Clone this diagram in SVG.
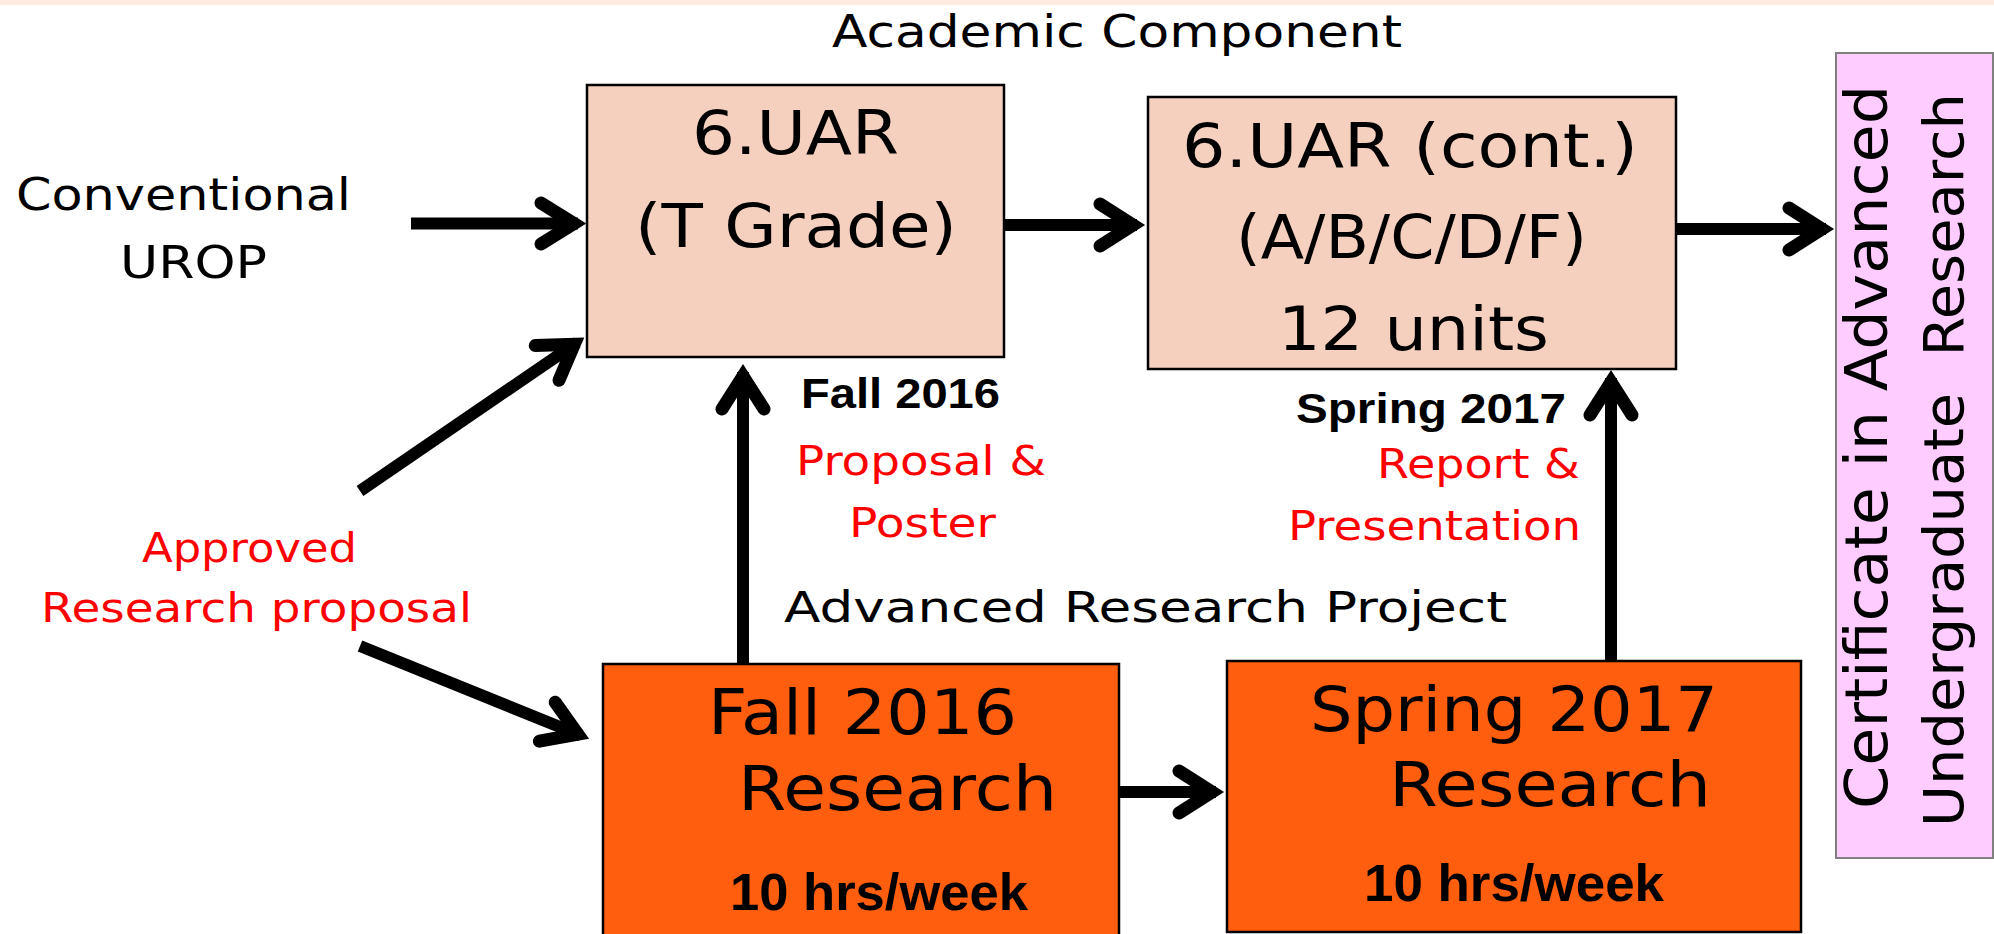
<svg xmlns="http://www.w3.org/2000/svg" width="1994" height="934" viewBox="0 0 1994 934">
<style>
.t{font-family:"DejaVu Sans","Liberation Sans",sans-serif;fill:#000}
.r{font-family:"DejaVu Sans","Liberation Sans",sans-serif;fill:#FF0000}
.b{font-family:"Liberation Sans",Arial,sans-serif;font-weight:bold;fill:#000}
.peach{fill:#F6D0BF;stroke:#000;stroke-width:2.5}
.orange{fill:#FF5E0E;stroke:#000;stroke-width:2.5}
.pink{fill:#FFCCFF;stroke:#808080;stroke-width:2}
.shaft{fill:none;stroke:#000;stroke-width:12;stroke-linecap:butt}
.head{fill:none;stroke:#000;stroke-width:13;stroke-linecap:round;stroke-linejoin:miter;stroke-miterlimit:10}
</style>
<rect x="0" y="0" width="1994" height="934" fill="#FFFFFF"/>
<rect x="0" y="0" width="1994" height="5" fill="#FFEBDF"/>

<text class="t" x="832" y="47" font-size="44" textLength="570" lengthAdjust="spacingAndGlyphs">Academic Component</text>
<text class="t" x="16" y="210" font-size="45" textLength="335" lengthAdjust="spacingAndGlyphs">Conventional</text>
<text class="t" x="120" y="278" font-size="45" textLength="147" lengthAdjust="spacingAndGlyphs">UROP</text>
<text class="b" x="801" y="408" font-size="43" textLength="199" lengthAdjust="spacingAndGlyphs">Fall 2016</text>
<text class="r" x="796" y="475" font-size="40" textLength="250" lengthAdjust="spacingAndGlyphs">Proposal &amp;</text>
<text class="r" x="849" y="537" font-size="40" textLength="147" lengthAdjust="spacingAndGlyphs">Poster</text>
<text class="b" x="1296" y="423" font-size="43" textLength="270" lengthAdjust="spacingAndGlyphs">Spring 2017</text>
<text class="r" x="1377" y="478" font-size="40" textLength="203" lengthAdjust="spacingAndGlyphs">Report &amp;</text>
<text class="r" x="1288" y="540" font-size="40" textLength="293" lengthAdjust="spacingAndGlyphs">Presentation</text>
<text class="r" x="142" y="562" font-size="41" textLength="215" lengthAdjust="spacingAndGlyphs">Approved</text>
<text class="r" x="41" y="622" font-size="41" textLength="431" lengthAdjust="spacingAndGlyphs">Research proposal</text>
<text class="t" x="784" y="622" font-size="43" textLength="723" lengthAdjust="spacingAndGlyphs">Advanced Research Project</text>

<g id="uar1">
<rect class="peach" x="587" y="85" width="417" height="272"/>
<text class="t" x="692" y="154" font-size="60" textLength="207" lengthAdjust="spacingAndGlyphs">6.UAR</text>
<text class="t" x="635" y="247" font-size="60" textLength="322" lengthAdjust="spacingAndGlyphs">(T Grade)</text>
</g>
<g id="uar2">
<rect class="peach" x="1148" y="97" width="528" height="272"/>
<text class="t" x="1182" y="167" font-size="60" textLength="456" lengthAdjust="spacingAndGlyphs">6.UAR (cont.)</text>
<text class="t" x="1236" y="258" font-size="60" textLength="351" lengthAdjust="spacingAndGlyphs">(A/B/C/D/F)</text>
<text class="t" x="1278" y="350" font-size="60" textLength="271" lengthAdjust="spacingAndGlyphs">12 units</text>
</g>
<g id="fall">
<rect class="orange" x="603" y="664" width="516" height="280"/>
<text class="t" x="708" y="734" font-size="63" textLength="309" lengthAdjust="spacingAndGlyphs">Fall 2016</text>
<text class="t" x="738" y="810" font-size="63" textLength="319" lengthAdjust="spacingAndGlyphs">Research</text>
<text class="b" x="730" y="910" font-size="52" textLength="298" lengthAdjust="spacingAndGlyphs">10 hrs/week</text>
</g>
<g id="spring">
<rect class="orange" x="1227" y="661" width="574" height="271"/>
<text class="t" x="1310" y="731" font-size="63" textLength="408" lengthAdjust="spacingAndGlyphs">Spring 2017</text>
<text class="t" x="1389" y="806" font-size="63" textLength="322" lengthAdjust="spacingAndGlyphs">Research</text>
<text class="b" x="1364" y="901" font-size="52" textLength="300" lengthAdjust="spacingAndGlyphs">10 hrs/week</text>
</g>
<g id="certificate">
<rect class="pink" x="1836" y="53" width="157" height="805"/>
<text class="t" transform="translate(1887,809) rotate(-90)" x="0" y="0" font-size="58" textLength="724" lengthAdjust="spacingAndGlyphs">Certificate in Advanced</text>
<text class="t" xml:space="preserve" transform="translate(1963,827) rotate(-90)" x="0" y="0" font-size="56" textLength="734" lengthAdjust="spacingAndGlyphs">Undergraduate  Research</text>
</g>

<g id="connectors">
<line class="shaft" x1="411" y1="223.5" x2="578" y2="223.5"/>
<polyline class="head" points="541,203 574,223.5 541,244"/>

<line class="shaft" x1="1004" y1="225" x2="1137" y2="225"/>
<polyline class="head" points="1100,204 1133,225 1100,246"/>

<line class="shaft" x1="1676" y1="229" x2="1826" y2="229"/>
<polyline class="head" points="1789,208 1822,229 1789,250"/>

<line class="shaft" x1="1119" y1="792" x2="1216" y2="792"/>
<polyline class="head" points="1179,771 1212,792 1179,813"/>

<line class="shaft" x1="743" y1="664" x2="743" y2="372"/>
<polyline class="head" points="722,409 743,376 764,409"/>

<line class="shaft" x1="1611" y1="661" x2="1611" y2="378"/>
<polyline class="head" points="1590,415 1611,382 1632,415"/>

<line class="shaft" x1="360" y1="491" x2="577" y2="342.5"/>
<polyline class="head" points="559,380.2 574.3,344.3 535.2,345.6"/>

<line class="shaft" x1="360" y1="646" x2="581" y2="735.5"/>
<polyline class="head" points="539.4,741.2 577.9,734.1 555.2,702.2"/>
</g>
</svg>
